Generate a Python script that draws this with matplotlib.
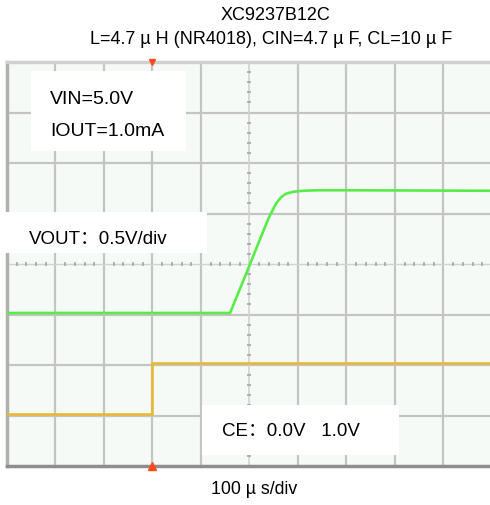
import matplotlib
matplotlib.use("Agg")
import matplotlib.pyplot as plt
from matplotlib.patches import Rectangle

plt.rcParams['font.family'] = ['Liberation Sans', 'Noto Sans CJK SC', 'DejaVu Sans']

W, H = 490, 505

# time in us (100 us/div), amplitude in screen divisions
t_vout = [0, 460, 480, 500, 520, 540, 555, 565, 575, 590, 610, 640, 700, 1000]
v_vout = [-0.97, -0.97, -0.5, -0.03, 0.45, 0.92, 1.2, 1.32, 1.39, 1.43, 1.45, 1.46, 1.46, 1.45]

t_ce = [0, 300, 300, 1000]
v_ce = [-2.97, -2.97, -1.97, -1.97]

trigger_t = 300

title1 = "XC9237B12C"
title2 = "L=4.7 µ H (NR4018), CIN=4.7 µ F, CL=10 µ F"
cond_lines = ["VIN=5.0V", "IOUT=1.0mA"]
vout_label = "VOUT：0.5V/div"
ce_label = "CE：0.0V   1.0V"
time_label = "100 µ s/div"


def fx(x):
    return x / W


def fy(y):
    return 1 - y / H


fig = plt.figure(figsize=(W / 100, H / 100), dpi=100)
ax = fig.add_axes([fx(7), fy(466), fx(490) - fx(7), fy(62) - fy(466)])
ax.set_facecolor("#f6faf6")
ax.set_xlim(0, 996)
ax.set_ylim(-4, 4)

# graticule
for k in range(1, 10):
    if k != 5:
        ax.axvline(k * 100, color="#c4c4c4", lw=1.6, zorder=1)
for k in range(-3, 4):
    if k != 0:
        ax.axhline(k, color="#c4c4c4", lw=1.6, zorder=1)
ax.axvline(500, color="#d2d2d2", lw=1.2, zorder=1)
ax.axhline(0, color="#d2d2d2", lw=1.0, zorder=1)
ax.plot([i * 20 for i in range(1, 50) if i % 5], [0] * 40, ls="none",
        marker="|", ms=3.5, mew=1.1, color="#a0a0a0", zorder=2)
ax.plot([500] * 32, [i * 0.2 for i in range(-20, 21) if i % 5], ls="none",
        marker="_", ms=3.5, mew=1.1, color="#a0a0a0", zorder=2)

ax.set_xticks([])
ax.set_yticks([])
ax.spines['right'].set_visible(False)
ax.spines['top'].set_color("#d0d0d0")
ax.spines['top'].set_linewidth(2.5)
ax.spines['left'].set_color("#b0b0b0")
ax.spines['left'].set_linewidth(2.5)
ax.spines['bottom'].set_color("#8e8e8e")
ax.spines['bottom'].set_linewidth(2.5)

# traces
ax.plot(t_vout, v_vout, color="#58ec48", lw=1.9, zorder=4)
ax.plot(t_ce, v_ce, color="#e9b935", lw=1.9, zorder=4)

# trigger markers
ax.plot([trigger_t], [4], marker="v", ms=5, color="#ff4a1c", clip_on=False, zorder=6)
ax.plot([trigger_t], [-4], marker="^", ms=6, color="#ff4a1c", clip_on=False, zorder=6)

# label boxes
for x0, y0, x1, y1 in [(31, 71, 186, 151), (0, 212, 207, 253), (202, 405, 399, 455)]:
    fig.add_artist(Rectangle((fx(x0), fy(y1)), fx(x1) - fx(x0), fy(y0) - fy(y1),
                             transform=fig.transFigure, facecolor="white",
                             edgecolor="none", zorder=10))

fig.text(fx(50), fy(99), cond_lines[0], fontsize=14, va="center", zorder=11)
fig.text(fx(50), fy(132), cond_lines[1], fontsize=14, va="center", zorder=11)
fig.text(fx(29), fy(240), vout_label, fontsize=13.5, va="center", zorder=11)
fig.text(fx(222), fy(432), ce_label, fontsize=13.5, va="center", zorder=11)

fig.text(fx(275), fy(15), title1, fontsize=13, ha="center", va="center")
fig.text(fx(271), fy(40), title2, fontsize=13, ha="center", va="center")
fig.text(fx(254), fy(489), time_label, fontsize=12.8, ha="center", va="center")

fig.savefig("out.png", dpi=100, facecolor="white")
